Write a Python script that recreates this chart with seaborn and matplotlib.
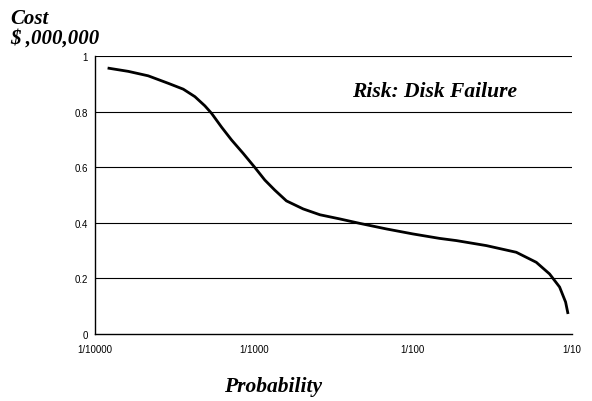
import numpy as np
import pandas as pd
import matplotlib
matplotlib.use('Agg')
import matplotlib.pyplot as plt
import seaborn as sns

# Data
probability = [1.20e-4, 1.62e-4, 2.16e-4, 2.89e-4, 3.59e-4, 4.25e-4, 4.91e-4, 5.41e-4,
               6.26e-4, 7.23e-4, 8.55e-4, 1.01e-3, 1.17e-3, 1.35e-3, 1.60e-3, 2.04e-3,
               2.60e-3, 3.47e-3, 4.63e-3, 6.81e-3, 1.00e-2, 1.47e-2, 1.88e-2, 2.90e-2,
               4.47e-2, 5.97e-2, 7.24e-2, 8.37e-2, 9.13e-2, 9.46e-2]
cost = [0.957, 0.945, 0.929, 0.902, 0.881, 0.854, 0.821, 0.794,
        0.744, 0.698, 0.650, 0.600, 0.554, 0.518, 0.479, 0.450,
        0.429, 0.414, 0.398, 0.378, 0.360, 0.344, 0.336, 0.318,
        0.294, 0.258, 0.216, 0.169, 0.115, 0.072]
x_ticks = [1e-4, 1e-3, 1e-2, 1e-1]
x_labels = ['1/10000', '1/1000', '1/100', '1/10']
y_ticks = [0, 0.2, 0.4, 0.6, 0.8, 1]
y_labels = ['0', '0.2', '0.4', '0.6', '0.8', '1']

df = pd.DataFrame({'probability': probability, 'cost': cost})

sns.set_style('white')
plt.rcParams['font.family'] = ['Liberation Sans', 'DejaVu Sans']
plt.rcParams['text.color'] = 'black'
plt.rcParams['xtick.color'] = 'black'
plt.rcParams['ytick.color'] = 'black'

fig = plt.figure(figsize=(5.92, 4.02), dpi=100)
ax = fig.add_axes([0.1605, 0.1667, 0.8055, 0.6913])

sns.lineplot(data=df, x='probability', y='cost', color='black', linewidth=2,
             solid_joinstyle='round', solid_capstyle='butt', ax=ax)

ax.set_xscale('log')
ax.set_xlim(1e-4, 1e-1)
ax.set_ylim(0, 1)
ax.set_xticks(x_ticks)
ax.set_xticklabels(x_labels)
ax.minorticks_off()
ax.set_yticks(y_ticks)
ax.set_yticklabels(y_labels)
ax.tick_params(axis='both', labelsize=7, length=4, width=0.8, color='black',
               labelcolor='black', direction='out', pad=1)
ax.tick_params(axis='x', pad=3)
ax.set_xlabel('')
ax.set_ylabel('')

for y in y_ticks[1:]:
    ax.axhline(y, color='black', linewidth=0.8, zorder=0)

for s in ['right', 'top']:
    ax.spines[s].set_visible(False)
for s in ['left', 'bottom']:
    ax.spines[s].set_color('black')
    ax.spines[s].set_linewidth(1)

serif = dict(family='Liberation Serif', weight='bold', style='italic', color='black')
fig.text(0.018, 0.978, 'Cost\n$ ,000,000', fontsize=15, va='top', ha='left',
         linespacing=0.95, **serif)
fig.text(0.461, 0.037, 'Probability', fontsize=15.5, ha='center', va='center', **serif)
ax.text(0.539, 0.874, 'Risk: Disk Failure', transform=ax.transAxes, fontsize=15.5,
        ha='left', va='center', **serif)

fig.savefig('out.png', dpi=100)
